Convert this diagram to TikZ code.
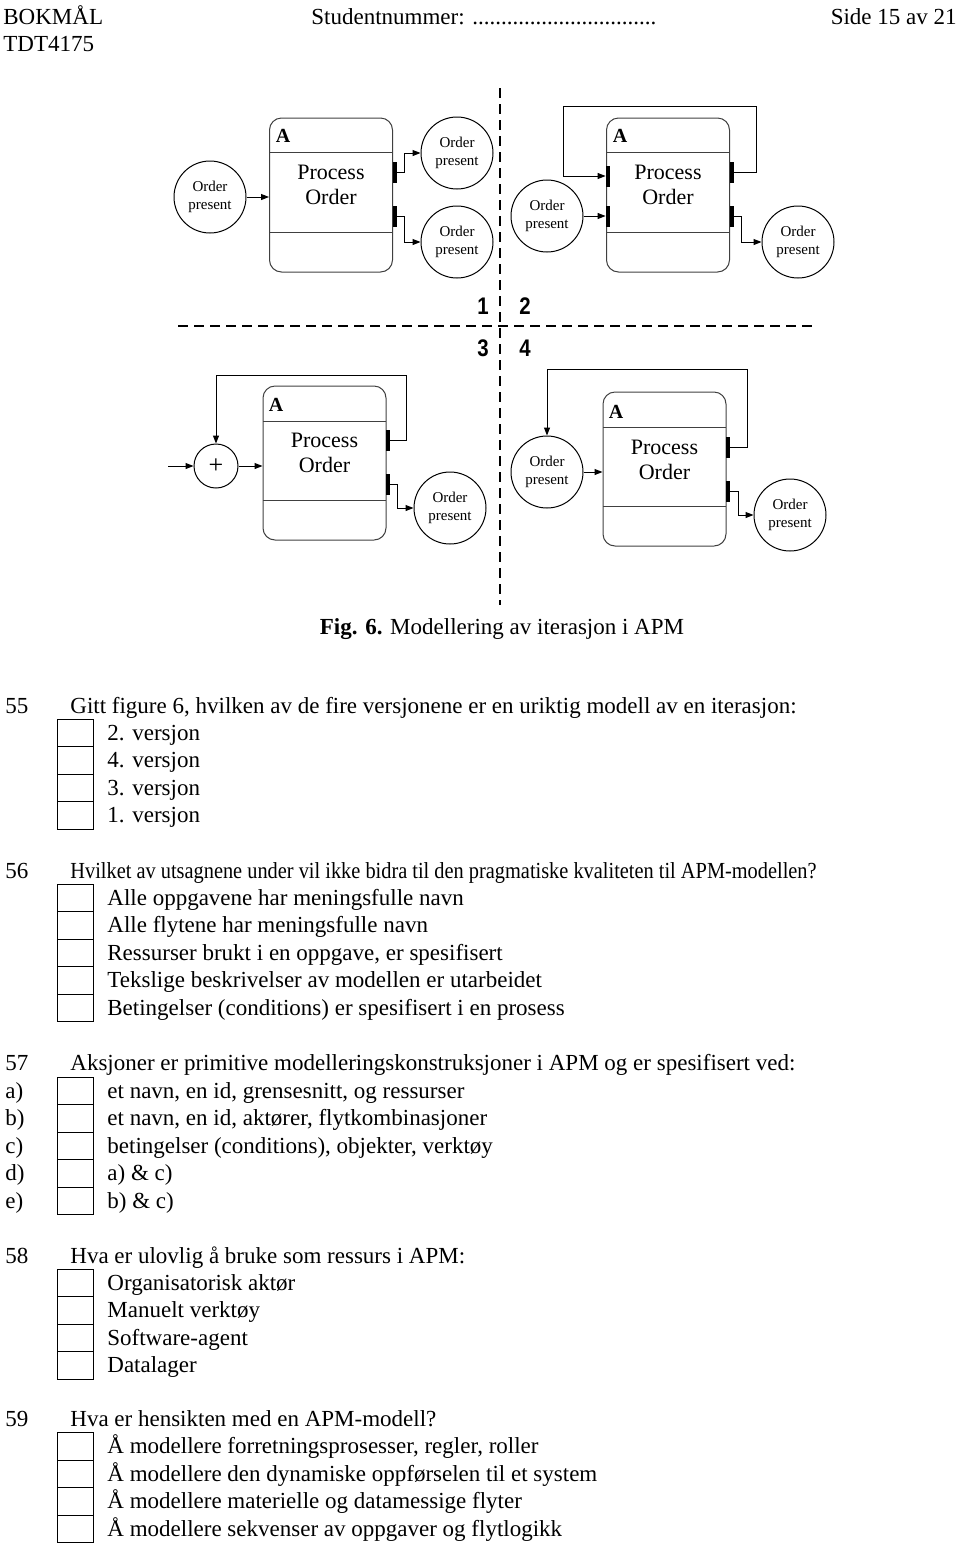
\documentclass[tikz,border=0pt]{standalone}
\usepackage{fontspec}
\setmainfont{Liberation Serif}
\newfontfamily\labfont{Liberation Sans}[FakeStretch=0.85]
\usetikzlibrary{arrows.meta}
\begin{document}
\begin{tikzpicture}[x=0.5pt,y=-0.5pt,
  every node/.style={inner sep=0pt},
  state/.style={circle,draw,line width=0.5pt,minimum size=36pt,align=center,font=\fontsize{7.5}{9}\selectfont},
  actbox/.style={draw=black!75,line width=0.5pt,rounded corners=6pt,minimum width=61.5pt,minimum height=77pt},
  port/.style={fill=black,minimum width=2pt,minimum height=10.5pt},
  flow/.style={line width=0.5pt,-{Triangle[length=4pt,width=3pt]}},
  sep/.style={line width=0.5pt,draw=black!75},
  ptitle/.style={align=center,font=\fontsize{11}{12.5}\selectfont},
  alabel/.style={font=\fontsize{10}{12}\selectfont\bfseries},
  txt/.style={anchor=base west,font=\fontsize{11.5}{14}\selectfont},
  cbox/.style={draw,line width=0.5pt,minimum width=18pt,minimum height=13.8pt},
  divider/.style={line width=1pt,dash pattern=on 5pt off 3pt},
  num/.style={font=\labfont\bfseries\fontsize{12}{14}\selectfont}
]
\useasboundingbox (0,0) rectangle (960,1548);

% ---------- header ----------
\node[txt] (h1) at (3,24) {BOKMÅL};
\node[txt] (h2) at (3,51) {TDT4175};
\node[txt] (h3) at (311,24) {Studentnummer: ................................};
\node[txt,anchor=base east] (h4) at (957,24) {Side 15 av 21};

% ---------- dividers ----------
\coordinate (vt) at (500,88);
\coordinate (vb) at (500,605);
\coordinate (hl) at (178,326);
\coordinate (hr) at (814,326);
\draw[divider] (vt) -- (vb);
\draw[divider] (hl) -- (hr);
\node[num] (n1) at (483,306) {1};
\node[num] (n2) at (525,306) {2};
\node[num] (n3) at (483,348) {3};
\node[num] (n4) at (525,348) {4};

% ---------- quadrant 1 ----------
\node[state] (c1a) at (210,197) {Order\\present};
\node[actbox] (b1) at (331,195) {};
\draw[sep] (270,152) -- (392,152);
\draw[sep] (270,232) -- (392,232);
\node[alabel] (a1) at (283,136) {A};
\node[ptitle] (t1) at (331,185) {Process\\Order};
\node[port] (p1a) at (394.5,172.5) {};
\node[port] (p1b) at (394.5,216) {};
\node[state] (c1b) at (457,153) {Order\\present};
\node[state] (c1c) at (457,242) {Order\\present};
\draw[flow] (c1a) -- (b1.west |- c1a);
\draw[flow] (p1a.east) -- ++(8,0) |- (c1b);
\draw[flow] (p1b.east) -- ++(8,0) |- (c1c);

% ---------- quadrant 2 ----------
\node[state] (c2a) at (547,216) {Order\\present};
\node[actbox] (b2) at (668,195) {};
\draw[sep] (606,152) -- (730,152);
\draw[sep] (606,232) -- (730,232);
\node[alabel] (a2) at (620,136) {A};
\node[ptitle] (t2) at (668,185) {Process\\Order};
\node[port] (p2a) at (608,176) {};
\node[port] (p2b) at (608,216) {};
\node[port] (p2c) at (731.5,172.5) {};
\node[port] (p2d) at (731.5,216) {};
\node[state] (c2b) at (798,242) {Order\\present};
\coordinate (l2a) at (756,106);
\coordinate (l2b) at (563,106);
\draw[flow] (p2c.east) -| (l2a) -- (l2b) |- (p2a.west);
\draw[flow] (c2a) -- (p2b.west);
\draw[flow] (p2d.east) -- ++(8,0) |- (c2b);

% ---------- quadrant 3 ----------
\coordinate (in3) at (168,466);
\node[state,minimum size=22pt,font=\fontsize{13}{14}\selectfont] (plus) at (216,466) {+};
\node[actbox] (b3) at (324.5,463) {};
\draw[sep] (263,421) -- (386,421);
\draw[sep] (263,500) -- (386,500);
\node[alabel] (a3) at (276,405) {A};
\node[ptitle] (t3) at (324.5,453) {Process\\Order};
\node[port] (p3a) at (388,440) {};
\node[port] (p3b) at (388,484) {};
\node[state] (c3) at (450,508) {Order\\present};
\coordinate (l3a) at (406,375);
\coordinate (l3b) at (216,375);
\draw[flow] (p3a.east) -| (l3a) -- (l3b) -- (plus);
\draw[flow] (in3) -- (plus);
\draw[flow] (plus) -- (b3.west |- plus);
\draw[flow] (p3b.east) -- ++(7,0) |- (c3);

% ---------- quadrant 4 ----------
\node[state] (c4a) at (547,472) {Order\\present};
\node[actbox] (b4) at (664.5,469) {};
\draw[sep] (603,427) -- (726,427);
\draw[sep] (603,506) -- (726,506);
\node[alabel] (a4) at (616,412) {A};
\node[ptitle] (t4) at (664.5,460) {Process\\Order};
\node[port] (p4a) at (728,447) {};
\node[port] (p4b) at (728,491) {};
\node[state] (c4b) at (790,515) {Order\\present};
\coordinate (l4a) at (747,369);
\coordinate (l4b) at (547,369);
\draw[flow] (p4a.east) -| (l4a) -- (l4b) -- (c4a);
\draw[flow] (c4a) -- (b4.west |- c4a);
\draw[flow] (p4b.east) -- ++(8,0) |- (c4b);

% ---------- caption ----------
\node[txt,anchor=base] (cap) at (502,634) {\textbf{Fig. 6.} Modellering av iterasjon i APM};

% ---------- question 55 ----------
\node[txt] (q55n) at (5,713) {55};
\node[txt] (q55) at (70,713) {Gitt figure 6, hvilken av de fire versjonene er en uriktig modell av en iterasjon:};
\node[cbox] (b55a) at (75,733) {};   \node[txt] (o55a) at (107,740) {2. versjon};
\node[cbox] (b55b) at (75,760.5) {}; \node[txt] (o55b) at (107,767.5) {4. versjon};
\node[cbox] (b55c) at (75,788) {};   \node[txt] (o55c) at (107,795) {3. versjon};
\node[cbox] (b55d) at (75,815.5) {}; \node[txt] (o55d) at (107,822.5) {1. versjon};

% ---------- question 56 ----------
\node[txt] (q56n) at (5,878) {56};
\node[txt] (q56) at (70,878) {\scalebox{0.885}[1]{Hvilket av utsagnene under vil ikke bidra til den pragmatiske kvaliteten til APM-modellen?}};
\node[cbox] (b56a) at (75,898) {};    \node[txt] (o56a) at (107,905) {Alle oppgavene har meningsfulle navn};
\node[cbox] (b56b) at (75,925.5) {};  \node[txt] (o56b) at (107,932.5) {Alle flytene har meningsfulle navn};
\node[cbox] (b56c) at (75,953) {};    \node[txt] (o56c) at (107,960) {Ressurser brukt i en oppgave, er spesifisert};
\node[cbox] (b56d) at (75,980.5) {};  \node[txt] (o56d) at (107,987.5) {Tekslige beskrivelser av modellen er utarbeidet};
\node[cbox] (b56e) at (75,1008) {};   \node[txt] (o56e) at (107,1015) {Betingelser (conditions) er spesifisert i en prosess};

% ---------- question 57 ----------
\node[txt] (q57n) at (5,1070) {57};
\node[txt] (q57) at (70,1070) {Aksjoner er primitive modelleringskonstruksjoner i APM og er spesifisert ved:};
\node[txt] (l57a) at (5,1098) {a)};
\node[txt] (l57b) at (5,1125.5) {b)};
\node[txt] (l57c) at (5,1153) {c)};
\node[txt] (l57d) at (5,1180.5) {d)};
\node[txt] (l57e) at (5,1208) {e)};
\node[cbox] (b57a) at (75,1091) {};    \node[txt] (o57a) at (107,1098) {et navn, en id, grensesnitt, og ressurser};
\node[cbox] (b57b) at (75,1118.5) {};  \node[txt] (o57b) at (107,1125.5) {et navn, en id, aktører, flytkombinasjoner};
\node[cbox] (b57c) at (75,1146) {};    \node[txt] (o57c) at (107,1153) {betingelser (conditions), objekter, verktøy};
\node[cbox] (b57d) at (75,1173.5) {};  \node[txt] (o57d) at (107,1180.5) {a) \& c)};
\node[cbox] (b57e) at (75,1201) {};    \node[txt] (o57e) at (107,1208) {b) \& c)};

% ---------- question 58 ----------
\node[txt] (q58n) at (5,1263) {58};
\node[txt] (q58) at (70,1263) {Hva er ulovlig å bruke som ressurs i APM:};
\node[cbox] (b58a) at (75,1283) {};    \node[txt] (o58a) at (107,1290) {Organisatorisk aktør};
\node[cbox] (b58b) at (75,1310.5) {};  \node[txt] (o58b) at (107,1317.5) {Manuelt verktøy};
\node[cbox] (b58c) at (75,1338) {};    \node[txt] (o58c) at (107,1345) {Software-agent};
\node[cbox] (b58d) at (75,1365.5) {};  \node[txt] (o58d) at (107,1372.5) {Datalager};

% ---------- question 59 ----------
\node[txt] (q59n) at (5,1426) {59};
\node[txt] (q59) at (70,1426) {Hva er hensikten med en APM-modell?};
\node[cbox] (b59a) at (75,1446.5) {};  \node[txt] (o59a) at (107,1453.5) {Å modellere forretningsprosesser, regler, roller};
\node[cbox] (b59b) at (75,1474) {};    \node[txt] (o59b) at (107,1481) {Å modellere den dynamiske oppførselen til et system};
\node[cbox] (b59c) at (75,1501.5) {};  \node[txt] (o59c) at (107,1508.5) {Å modellere materielle og datamessige flyter};
\node[cbox] (b59d) at (75,1529) {};    \node[txt] (o59d) at (107,1536) {Å modellere sekvenser av oppgaver og flytlogikk};
\end{tikzpicture}
\end{document}
